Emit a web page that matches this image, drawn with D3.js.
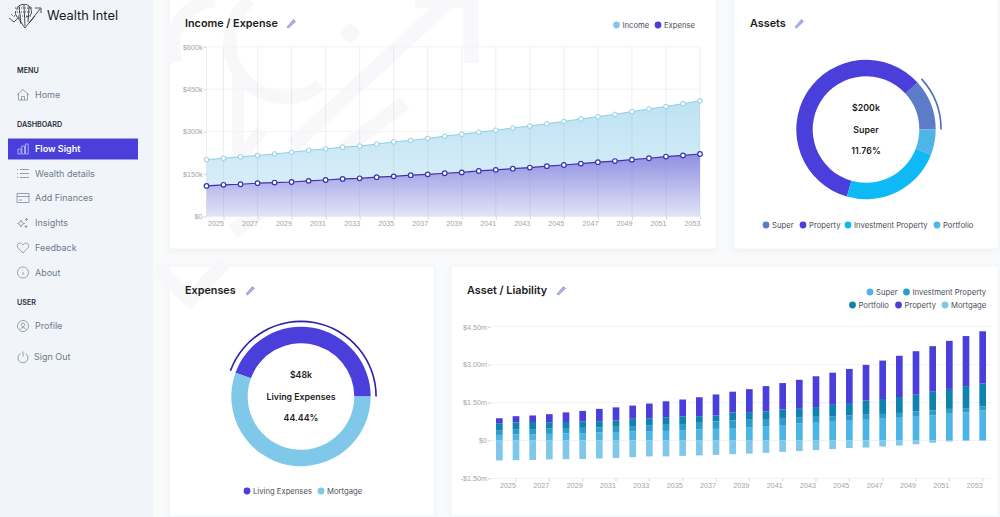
<!DOCTYPE html>
<html>
<head>
<meta charset="utf-8">
<title>Wealth Intel</title>
<script src="https://cdn.jsdelivr.net/npm/d3@7/dist/d3.min.js"></script>
<style>
  html, body { margin: 0; padding: 0; background: #f9fafb; overflow: hidden; }
  svg { display: block; font-family: Inter, "Noto Sans", sans-serif; }
  .tick text { font-size: 7.2px; fill: #a3a5aa; }
  .tick line { stroke: #d0d2d7; }
  .domain { display: none; }
</style>
</head>
<body>
<svg id="chart" width="1000" height="517"></svg>
<script>
// chart data
const years = d3.range(2024, 2054);
const incomeValues = [201, 206, 211, 216, 221, 227, 234, 239, 245, 249, 256, 264, 269, 276, 284,
  291, 298, 305, 313, 320, 328, 336, 345, 353, 361, 371, 380, 389, 399, 409];
const expenseValues = [108, 112, 114, 118, 120, 122, 126, 129, 133, 135, 139, 142, 146, 149, 153,
  156, 161, 165, 169, 173, 178, 182, 187, 192, 196, 201, 206, 212, 216, 221];

const superValues = [.22, .24, .25, .26, .28, .29, .32, .33, .36, .37, .38, .41, .44, .46, .49,
  .53, .56, .61, .67, .70, .74, .78, .82, .86, .90, .94, .99, 1.06, 1.11, 1.19];
const investmentValues = [.17, .19, .20, .21, .21, .21, .20, .21, .21, .22, .24, .24, .26, .29, .30,
  .29, .29, .28, .24, .24, .22, .21, .20, .19, .19, .21, .20, .19, .17, .16];
const portfolioValues = [.29, .28, .28, .25, .24, .25, .24, .25, .29, .29, .30, .30, .26, .24, .32,
  .30, .30, .34, .37, .38, .45, .49, .56, .59, .63, .66, .74, .79, .87, .90];
const propertyValues = [.20, .25, .26, .32, .38, .42, .49, .52, .52, .58, .63, .67, .75, .83, .82,
  .91, 1.00, 1.04, 1.12, 1.22, 1.27, 1.35, 1.41, 1.52, 1.63, 1.72, 1.80, 1.90, 1.98, 2.07];
const mortgageValues = [-.79, -.78, -.77, -.75, -.74, -.73, -.71, -.69, -.66, -.63, -.63, -.61, -.59, -.57, -.54,
  -.52, -.49, -.45, -.42, -.38, -.34, -.30, -.28, -.24, -.20, -.15, -.09, -.04, -.01, 0];

const assetNames = ["Super", "Property", "Investment Property", "Portfolio"];
const assetValues = [200, 1000, 400, 100];
const expenseNames = ["Living Expenses", "Mortgage"];
const expenseSplit = [48, 60];

const navItems = ["Home", "Flow Sight", "Wealth details", "Add Finances", "Insights", "Feedback", "About", "Profile", "Sign Out"];
const navHeaders = ["MENU", "DASHBOARD", "USER"];

const violet = "#4a3fdb";
const sky = "#7fc8ea";

const svg = d3.select("#chart");
const defs = svg.append("defs");

// gradients for the two areas
function addGradient(id, y1, y2, stops) {
  const g = defs.append("linearGradient").attr("id", id)
    .attr("gradientUnits", "userSpaceOnUse")
    .attr("x1", 0).attr("x2", 0).attr("y1", y1).attr("y2", y2);
  stops.forEach(s => g.append("stop").attr("offset", s[0]).attr("stop-color", s[1]));
}
addGradient("incomeFill", 100, 190, [[0, "#bde2f3"], [1, "#d9eef8"]]);
addGradient("expenseFill", 155, 217, [[0, "#9090e2"], [1, "#e2e5f8"]]);

// page furniture
svg.append("rect").attr("width", 153).attr("height", 517).attr("fill", "#f1f5fa");

const cards = [[169, -4, 547, 253], [734, -4, 264, 253], [169, 266, 265, 250], [451, 266, 547, 250]];
svg.append("g").selectAll("rect").data(cards).join("rect")
  .attr("x", d => d[0]).attr("y", d => d[1]).attr("width", d => d[2]).attr("height", d => d[3])
  .attr("fill", "#fff").attr("stroke", "#f3f4f6")
  .style("filter", "drop-shadow(0 2px 3px rgba(0,0,0,.035))");

// faint watermark behind everything
const markColor = "#f8f8fa";
const mark = svg.append("g").attr("fill", "none").attr("stroke", markColor).attr("stroke-linecap", "butt");
mark.append("path").attr("stroke-width", 15).attr("d", "M233,232 L405,103");
mark.append("path").attr("stroke-width", 15).attr("d", "M293,145 L450,0");
mark.append("path").attr("stroke-width", 15).attr("d", "M415,0 H471 V63");
mark.append("path").attr("stroke-width", 14).attr("d", "M176,62 A46,46 0 0 1 215,0");
mark.append("path").attr("stroke-width", 13).attr("d", "M250,0 A45,45 0 0 0 320,85");
mark.append("path").attr("stroke-width", 12).attr("d", "M238,72 V160 L262,130");
mark.append("path").attr("stroke-width", 14).attr("d", "M156,268 L190,300 L225,262");
mark.append("circle").attr("cx", 350).attr("cy", 33).attr("r", 9).attr("fill", markColor).attr("stroke", "none");

// sidebar
const side = svg.append("g");
side.append("text").attr("x", 47).attr("y", 19.5).attr("font-size", 12.8).attr("font-weight", 400)
  .attr("fill", "#16181d").text("Wealth Intel");

const logo = side.append("g").attr("fill", "none").attr("stroke", "#23262d").attr("stroke-width", .8);
logo.append("path").attr("d", "M9,18 L14,22 L18,18 L25,28 L40,9 M35,8 H41 V13 M25,26 L24,5 M21,24 L19,6 M28,22 L29,6 M17,10 C16,3 31,2 31,10 C33,14 29,17 26,17 M16,11 C14,14 17,18 20,18 M29,23 L35,16");
logo.append("path").attr("stroke-dasharray", "1 1").attr("d", "M15,8 H32 M15,12 H33 M14,16 H31 M11,14 L14,17");

const headerY = [70, 124, 302];
side.selectAll(".nav-header").data(navHeaders).join("text").attr("class", "nav-header")
  .attr("x", 17).attr("y", (d, i) => headerY[i] + 2.5)
  .attr("font-size", 7.2).attr("font-weight", 600).attr("fill", "#2b2f38").text(d => d);

side.append("rect").attr("x", 8).attr("y", 138.5).attr("width", 130).attr("height", 21).attr("fill", violet);

const navY = [95, 149, 173.5, 198, 223, 248, 272.5, 326, 357];
side.selectAll(".nav-item").data(navItems).join("text").attr("class", "nav-item")
  .attr("x", (d, i) => i === 8 ? 34 : 35).attr("y", (d, i) => navY[i] + 3.2)
  .attr("font-size", 9).attr("font-weight", (d, i) => i === 1 ? 600 : 400)
  .attr("fill", (d, i) => i === 1 ? "#fff" : "#6f7a8c").text(d => d);

const navIcons = [
  "M-6,0 L0,-5.5 L6,0 M-4.5,-1 V5 H4.5 V-1 M-1.5,5 V1.5 H1.5 V5",
  "M-5,5 V0 H-2 V5 Z M-1.2,5 V-3 H1.5 V5 Z M2.5,5 V-5 H5.2 V5 Z",
  "M-3,-4 H6 M-3,0 H6 M-3,4 H6 M-6,-4 H-5 M-6,0 H-5 M-6,4 H-5",
  "M-6,-4.5 H6 V4.5 H-6 Z M-6,-1.5 H6 M-4,2 H-1",
  "M-2,-3 L-.8,-.5 L1.5,.5 L-.8,1.5 L-2,4 L-3.2,1.5 L-5.5,.5 L-3.2,-.5 Z M3.5,-5 V-2 M2,-3.5 H5 M3,2 V5 M1.5,3.5 H4.5",
  "M0,5 L-5.2,-.5 C-7,-3 -4,-6 -1.5,-4.5 L0,-3.2 L1.5,-4.5 C4,-6 7,-3 5.2,-.5 Z",
  "M0,-5.5 A5.5,5.5 0 1 1 -.01,-5.5 M0,-.5 V2.5 M0,-2.5 V-2",
  "M0,-5.5 A5.5,5.5 0 1 1 -.01,-5.5 M0,-3 A1.8,1.8 0 1 1 -.01,-3 M-3,3.5 C-2,1 2,1 3,3.5",
  "M-2.5,-3.5 A5,5 0 1 0 2.5,-3.5 M0,-5.5 V-.5"
];
side.selectAll(".nav-icon").data(navIcons).join("path").attr("class", "nav-icon")
  .attr("transform", (d, i) => `translate(23,${navY[i]})`).attr("d", d => d)
  .attr("fill", "none").attr("stroke", (d, i) => i === 1 ? "#b9c6f5" : "#7f8a9b").attr("stroke-width", .8);

// card titles with the little pencil
function addTitle(x, y, label, pencilX) {
  svg.append("text").attr("x", x).attr("y", y + 4).attr("font-size", 10.8).attr("font-weight", 600)
    .attr("fill", "#1b1d22").text(label);
  svg.append("path").attr("d", `M${pencilX - 4},${y + 4} L${pencilX + 2.5},${y - 3.5} L${pencilX + 4.5},${y - 1.5} L${pencilX - 2.5},${y + 5} Z`)
    .attr("fill", "#b3b0e6").attr("stroke", "#7f79cf").attr("stroke-width", .6);
}
addTitle(185, 23, "Income / Expense", 291);
addTitle(750, 23, "Assets", 799);
addTitle(185, 290, "Expenses", 250);
addTitle(467, 290, "Asset / Liability", 561);

function addLegend(items) {
  const g = svg.append("g").selectAll("g").data(items).join("g")
    .attr("transform", d => `translate(${d.x},${d.y})`);
  g.append("circle").attr("r", 3.4).attr("fill", d => d.color);
  g.append("text").attr("x", 6).attr("y", 2.8).attr("font-size", 7.7).attr("fill", "#4a4f5a").text(d => d.label);
}

// income / expense area chart
const areaX = d3.scaleLinear().domain([2024, 2053]).range([206.5, 700]);
const areaY = d3.scaleLinear().domain([0, 600]).range([216.5, 46.8]);
const areaTicks = years.filter(y => y % 2 === 1);
const kLabel = d => d === 0 ? "$0" : `$${d}k`;

const areaChart = svg.append("g");
areaChart.append("g").selectAll("line").data([0, 150, 300, 450, 600]).join("line")
  .attr("x1", areaX.range()[0]).attr("x2", areaX.range()[1])
  .attr("y1", d => areaY(d)).attr("y2", d => areaY(d)).attr("stroke", "#f2f3f5");

areaChart.append("path").datum(years)
  .attr("fill", "url(#incomeFill)")
  .attr("d", d3.area().x(d => areaX(d))
    .y0((d, i) => areaY(expenseValues[i])).y1((d, i) => areaY(incomeValues[i])));
areaChart.append("path").datum(years)
  .attr("fill", "url(#expenseFill)")
  .attr("d", d3.area().x(d => areaX(d)).y0(areaY(0)).y1((d, i) => areaY(expenseValues[i])));

// vertical grid shows through the fills
areaChart.append("g").selectAll("line").data([2024, ...areaTicks]).join("line")
  .attr("x1", d => areaX(d)).attr("x2", d => areaX(d))
  .attr("y1", areaY(0)).attr("y2", areaY(600)).attr("stroke", "rgba(120,125,140,.12)");

const series = [{ values: incomeValues, stroke: "#8fcde8", width: 1 }, { values: expenseValues, stroke: "#3a33ad", width: 1.2 }];
series.forEach(s => {
  areaChart.append("path").datum(s.values).attr("fill", "none").attr("stroke", s.stroke).attr("stroke-width", s.width)
    .attr("d", d3.line().x((d, i) => areaX(years[i])).y(d => areaY(d)));
  areaChart.append("g").selectAll("circle").data(s.values).join("circle")
    .attr("cx", (d, i) => areaX(years[i])).attr("cy", d => areaY(d)).attr("r", 2.3)
    .attr("fill", "#fff").attr("stroke", s.stroke).attr("stroke-width", s.width);
});

areaChart.append("g").attr("transform", `translate(${areaX.range()[0]},0)`)
  .call(d3.axisLeft(areaY).tickValues([0, 150, 300, 450, 600]).tickFormat(kLabel).tickSize(3).tickPadding(1));
const areaAxis = areaChart.append("g").attr("transform", `translate(0,${areaY(0)})`)
  .call(d3.axisBottom(areaX).tickValues(areaTicks).tickFormat(d3.format("d")).tickSize(3).tickPadding(1));
areaAxis.selectAll("text").attr("text-anchor", "end");

addLegend([
  { x: 616.5, y: 25, color: sky, label: "Income" },
  { x: 658, y: 25, color: violet, label: "Expense" }
]);

// donuts, slices run anticlockwise from three o'clock
function addDonut(cx, cy, values, colors, ringColor, lines) {
  const g = svg.append("g").attr("transform", `translate(${cx},${cy})`);
  const slices = d3.pie().sort(null).startAngle(Math.PI / 2).endAngle(Math.PI / 2 - 2 * Math.PI)(values);
  g.selectAll("path").data(slices).join("path")
    .attr("d", d3.arc().innerRadius(53.3).outerRadius(69.7))
    .attr("fill", (d, i) => colors[i]);
  g.append("path")
    .attr("d", d3.arc().innerRadius(74.3).outerRadius(75.9)(slices[0]))
    .attr("fill", ringColor);
  g.selectAll("text").data(lines).join("text")
    .attr("y", (d, i) => (i - 1) * 21.5 + 3.2).attr("text-anchor", "middle")
    .attr("font-size", 8.8).attr("font-weight", 600).attr("fill", "#1b1d22").text(d => d);
}
const assetColors = ["#5c7cc8", violet, "#0fb9f5", "#4fb5e8"];
const assetTotal = d3.sum(assetValues);
addDonut(866, 129.5, assetValues, assetColors, "#4f6fbd",
  [`$${assetValues[0]}k`, assetNames[0], `${(assetValues[0] / assetTotal * 100).toFixed(2)}%`]);
const expenseTotal = d3.sum(expenseSplit);
addDonut(301, 396.5, expenseSplit, [violet, sky], "#2a1fa8",
  [`$${expenseSplit[0]}k`, expenseNames[0], `${(expenseSplit[0] / expenseTotal * 100).toFixed(2)}%`]);

const assetLegendX = [766, 803, 848, 937];
addLegend(assetNames.map((label, i) => ({ x: assetLegendX[i], y: 225, color: assetColors[i], label })));
const expenseLegendX = [247, 321];
addLegend(expenseNames.map((label, i) => ({ x: expenseLegendX[i], y: 491, color: [violet, sky][i], label })));

// asset / liability stacked bars
const stackKeys = ["Super", "Investment Property", "Portfolio", "Property"];
const stackColors = { "Super": "#4db4e6", "Investment Property": "#2b9ccb", "Portfolio": "#0f82ad", "Property": violet, "Mortgage": sky };
const stackRows = years.map((year, i) => ({
  year,
  "Super": superValues[i],
  "Investment Property": investmentValues[i],
  "Portfolio": portfolioValues[i],
  "Property": propertyValues[i]
}));

const barX = d3.scaleBand().domain(years).range([491, 991]).paddingInner(.6).paddingOuter(.3);
const barY = d3.scaleLinear().domain([-1.5, 4.5]).range([478.4, 326.7]);
const barTicks = years.filter(y => y % 2 === 1);
const mLabel = d => d === 0 ? "$0" : `${d < 0 ? "-" : ""}$${Math.abs(d).toFixed(2)}m`;

const barChart = svg.append("g");
barChart.append("g").selectAll("line").data([-1.5, 0, 1.5, 3, 4.5]).join("line")
  .attr("x1", 491).attr("x2", 991).attr("y1", d => barY(d)).attr("y2", d => barY(d)).attr("stroke", "#f1f2f4");

barChart.append("g").selectAll("g").data(d3.stack().keys(stackKeys)(stackRows)).join("g")
  .attr("fill", d => stackColors[d.key])
  .selectAll("rect").data(d => d).join("rect")
  .attr("x", d => barX(d.data.year)).attr("width", barX.bandwidth())
  .attr("y", d => barY(d[1])).attr("height", d => barY(d[0]) - barY(d[1]));
barChart.append("g").attr("fill", stackColors.Mortgage).selectAll("rect").data(mortgageValues).join("rect")
  .attr("x", (d, i) => barX(years[i])).attr("width", barX.bandwidth())
  .attr("y", barY(0)).attr("height", d => barY(d) - barY(0));

barChart.append("g").attr("transform", "translate(491,0)")
  .call(d3.axisLeft(barY).tickValues([-1.5, 0, 1.5, 3, 4.5]).tickFormat(mLabel).tickSize(3).tickPadding(1));
const barAxis = barChart.append("g").attr("transform", `translate(0,${barY(-1.5)})`)
  .call(d3.axisBottom(barX).tickValues(barTicks).tickFormat(d3.format("d")).tickSize(3).tickPadding(1));
barAxis.selectAll("text").attr("text-anchor", "end");

addLegend([
  { x: 870, y: 292, color: stackColors.Super, label: "Super" },
  { x: 906.5, y: 292, color: stackColors["Investment Property"], label: "Investment Property" },
  { x: 852.5, y: 305, color: stackColors.Portfolio, label: "Portfolio" },
  { x: 898.5, y: 305, color: stackColors.Property, label: "Property" },
  { x: 945, y: 305, color: stackColors.Mortgage, label: "Mortgage" }
]);
</script>
</body>
</html>
